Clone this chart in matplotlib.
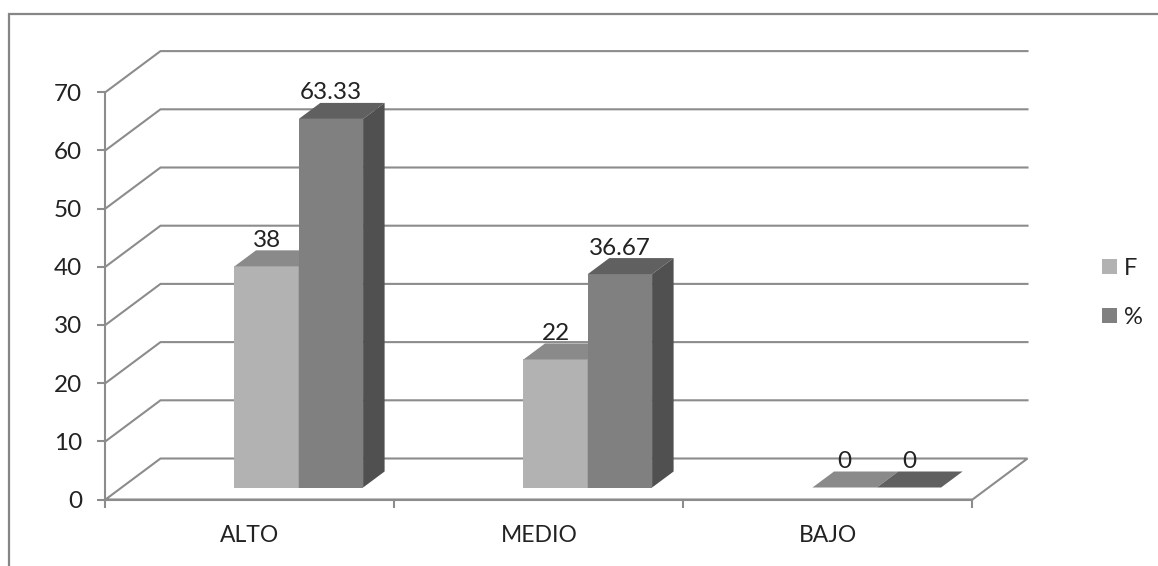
import matplotlib
matplotlib.use('Agg')
import matplotlib.pyplot as plt
from matplotlib.patches import Polygon

plt.rcParams['font.family'] = ['Lato', 'DejaVu Sans']

categories = ['ALTO', 'MEDIO', 'BAJO']
valores_f = [38, 22, 0]
valores_pct = [63.33, 36.67, 0]
yticks = [0, 10, 20, 30, 40, 50, 60, 70]

W, H = 1158, 566
# escala en pixeles de la figura
x0_px, y0_px = 105.5, 499.5
cat_px = 289.0
unit_px = 5.82
GRID = '#8c8c8c'
TXT = '#222222'

# profundidad del piso y de las barras, en unidades de datos
dx_wall = 55 / cat_px
dy_wall = 41 / unit_px
dx_bar = 21.5 / cat_px
dy_bar = 16 / unit_px
base = 12 / unit_px
bar_w = 64.3 / cat_px
start = 129 / cat_px   # donde empieza la primera barra dentro de la categoria
label_off = 26 / unit_px

fig = plt.figure(figsize=(W / 100, H / 100), dpi=100)
ax = fig.add_axes([0, 0, 1, 1])
ax.set_xlim(-x0_px / cat_px, (W - x0_px) / cat_px)
ax.set_ylim(-(H - y0_px) / unit_px, y0_px / unit_px)
ax.patch.set_visible(False)

# lineas de la pared
for v in yticks:
    if v > 0:
        ax.plot([0, dx_wall, 3 + dx_wall], [v, v + dy_wall, v + dy_wall], color=GRID, lw=1.5, zorder=1, solid_joinstyle='miter')
ax.plot([0, dx_wall, 3 + dx_wall, 3, 0], [0, dy_wall, dy_wall, 0, 0], color=GRID, lw=1.5, zorder=1, solid_joinstyle='miter')


def bar3d(x, val, front, top, side, label):
    ax.bar(x, val, bar_w, bottom=base, align='edge', color=front, lw=0, zorder=3, label=label)
    y1 = base + val
    ax.add_patch(Polygon([(x, y1), (x + bar_w, y1), (x + bar_w + dx_bar, y1 + dy_bar), (x + dx_bar, y1 + dy_bar)],
                         closed=True, fc=top, ec='none', zorder=3))
    ax.add_patch(Polygon([(x + bar_w, base), (x + bar_w + dx_bar, base + dy_bar), (x + bar_w + dx_bar, y1 + dy_bar), (x + bar_w, y1)],
                         closed=True, fc=side, ec='none', zorder=3))
    ax.text(x + bar_w / 2, y1 + label_off, f'{val:g}', ha='center', va='center', fontsize=17.5, color=TXT, zorder=5)


for i in range(len(categories)):
    # el % se dibuja despues, tapa la cara lateral de F
    bar3d(i + start, valores_f[i], '#b2b2b2', '#8a8a8a', '#707070', 'F' if i == 0 else None)
    bar3d(i + start + bar_w, valores_pct[i], '#808080', '#606060', '#505050', '%' if i == 0 else None)

# ejes
for s in ['top', 'right']:
    ax.spines[s].set_visible(False)
ax.spines['left'].set_position(('data', 0))
ax.spines['left'].set_bounds(0, 70)
ax.spines['bottom'].set_position(('data', 0))
ax.spines['bottom'].set_bounds(0, 3)
for s in ['left', 'bottom']:
    ax.spines[s].set_color(GRID)
    ax.spines[s].set_linewidth(1.5)
    ax.spines[s].set_zorder(2)
ax.set_yticks(yticks)
ax.set_xticks([0, 1, 2, 3])
ax.set_xticklabels([])
ax.set_xticks([0.5, 1.5, 2.5], minor=True)
ax.set_xticklabels(categories, minor=True)
ax.tick_params(axis='both', which='major', length=6, width=1.5, color=GRID, labelsize=17.5, labelcolor=TXT)
ax.tick_params(axis='y', pad=11)
ax.tick_params(axis='x', which='minor', length=0, pad=18, labelsize=16.5, labelcolor=TXT)

# leyenda
ax.legend(loc='center left', bbox_to_anchor=(1102 / W, 1 - 293 / H), bbox_transform=fig.transFigure,
          frameon=False, fontsize=17, handlelength=0.63, handleheight=0.63, handletextpad=0.3,
          labelspacing=1.18, labelcolor=TXT, borderpad=0, borderaxespad=0)

# marco del grafico (sin lado derecho ni inferior)
fig.add_artist(plt.Line2D([8.5 / W, 8.5 / W, 1], [0, 1 - 13.5 / H, 1 - 13.5 / H], color='#868686', lw=1.6,
                          transform=fig.transFigure, solid_joinstyle='miter'))

fig.savefig('out.png', dpi=100, facecolor='white')
